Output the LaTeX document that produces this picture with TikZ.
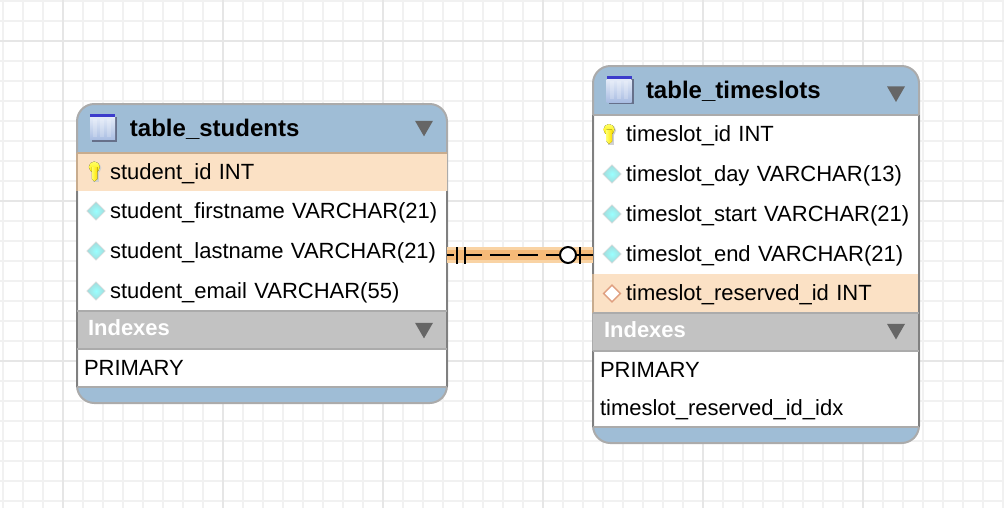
\documentclass[tikz,border=0pt]{standalone}
\usepackage{fontspec}
\setmainfont{Liberation Sans}
\usetikzlibrary{positioning,shapes.geometric,backgrounds}
\definecolor{gridminor}{HTML}{F1F1F1}
\definecolor{gridmajor}{HTML}{E6E6E6}
\definecolor{headblue}{HTML}{9FBDD6}
\definecolor{keyrow}{HTML}{FBE1C5}
\definecolor{indexgrey}{HTML}{C2C2C2}
\definecolor{rulegrey}{HTML}{ABABAB}
\definecolor{ruletan}{HTML}{C8AC8E}
\definecolor{sidegrey}{HTML}{808080}
\definecolor{arrowgrey}{HTML}{666666}
\definecolor{bandlight}{HTML}{F9D3A4}
\definecolor{banddark}{HTML}{F6BA78}
\definecolor{iconbar}{HTML}{3C3CCB}
\definecolor{iconshade}{HTML}{66708A}
\definecolor{icontop}{HTML}{E4EBF8}
\definecolor{iconbottom}{HTML}{A9BDE2}
\newcommand{\field}[1]{\hspace*{24.75pt}#1}
\newcommand{\indexrow}[1]{\hspace*{5.25pt}#1}
\newcommand{\headtitle}[1]{\hspace*{39.75pt}#1}
\newcommand{\indexhead}[1]{\hspace*{8.25pt}#1}

\begin{document}
\begin{tikzpicture}[
    x=0.75pt, y=-0.75pt,
    rowbox/.style={ inner xsep=0pt,
                    inner ysep=0pt,
                    outer sep=0pt,
                    align=left,
                    text height=12pt,
                    text depth=1.5pt,
                    font=\fontsize{16.5}{18}\selectfont},
    srow/.style={rowbox, text width=277.5pt},
    trow/.style={rowbox, text width=244.5pt},
    wide/.style={minimum height=30pt},
    thin/.style={minimum height=28.5pt},
    keyed/.style={fill=keyrow},
    title/.style={minimum height=36.75pt, text depth=0pt, font=\fontsize{18}{20}\selectfont\bfseries},
    indexbar/.style={fill=indexgrey, text=white, minimum height=28.5pt, text depth=4.5pt,
                     font=\fontsize{16.5}{18}\selectfont\bfseries},
    foot/.style={minimum height=12pt, text height=0pt, text depth=0pt},
    rule/.style={draw=rulegrey, line width=1.5pt},
    tanrule/.style={draw=ruletan, line width=1.5pt},
    side/.style={draw=sidegrey, line width=1.1pt},
    droparrow/.style={regular polygon, regular polygon sides=3, shape border rotate=180,
                      fill=arrowgrey, inner sep=0pt, minimum size=15.6pt},
    attr/.style={diamond, inner sep=0pt, minimum width=14pt, minimum height=14pt, draw=gray!30,
                 inner color=white!60!cyan, outer color=cyan!40!gray!50},
    fkey/.style={diamond, inner sep=0pt, minimum width=13pt, minimum height=13pt, draw=brown!50!pink,
                 line width=1pt, fill=white},
    tick/.style={inner sep=0pt, outer sep=0pt, minimum width=1.5pt, minimum height=12.75pt, fill=black},
    optional/.style={circle, draw=black, fill=white, line width=1.5pt, inner sep=0pt, minimum size=12pt},
    keyicon/.pic={
        \fill[black!18] (1.5,-4) circle (5.5);
        \fill[black!18] (-1,-4) rectangle (5,10);
        \fill[top color=yellow!60!white, bottom color=yellow!85!orange] (0,-5) circle (5.5);
        \fill[left color=yellow!60!white, right color=yellow!75!orange] (-2.5,-5) -- (3,-5) -- (3,7)
            -- (0,9.5) -- (-2.5,7) -- cycle;
    },
    tableicon/.pic={
        \fill[iconshade] (-11,-11) rectangle (14,14);
        \fill[top color=icontop, bottom color=iconbottom] (-13,-11) rectangle (12,12);
        \foreach \i in {-8,-1,6} \fill[white, opacity=0.2] (\i-2,-9) rectangle (\i+2,9);
        \fill[iconbar] (-13,-14) rectangle (12,-11);
    }]

    \useasboundingbox (0,0) rectangle (1004,508);

    % table_students
    \node[srow, title, anchor=north west] (shead) at (77,104) {\headtitle{table\_students}};
    \node[srow, thin, keyed, below=0pt of shead] (sid) {\field{student\_id INT}};
    \node[srow, wide, below=0pt of sid] (sfirst) {\field{student\_firstname VARCHAR(21)}};
    \node[srow, wide, below=0pt of sfirst] (slast) {\field{student\_lastname VARCHAR(21)}};
    \node[srow, wide, below=0pt of slast] (semail) {\field{student\_email VARCHAR(55)}};
    \node[srow, indexbar, below=0pt of semail] (sidx) {\indexhead{Indexes}};
    \node[srow, thin, below=0pt of sidx] (sprim) {\indexrow{PRIMARY}};
    \node[srow, foot, below=0pt of sprim] (sfoot) {};

    % table_timeslots
    \node[trow, title, anchor=north west] (thead) at (593,66) {\headtitle{table\_timeslots}};
    \node[trow, minimum height=29.25pt, below=0pt of thead] (tid) {\field{timeslot\_id INT}};
    \node[trow, wide, below=0pt of tid] (tday) {\field{timeslot\_day VARCHAR(13)}};
    \node[trow, wide, below=0pt of tday] (tstart) {\field{timeslot\_start VARCHAR(21)}};
    \node[trow, wide, below=0pt of tstart] (tend) {\field{timeslot\_end VARCHAR(21)}};
    \node[trow, minimum height=29.25pt, keyed, below=0pt of tend] (tres) {\field{timeslot\_reserved\_id INT}};
    \node[trow, indexbar, below=0pt of tres] (tidx) {\indexhead{Indexes}};
    \node[trow, thin, below=0pt of tidx] (tprim) {\indexrow{PRIMARY}};
    \node[trow, thin, below=0pt of tprim] (tuniq) {\indexrow{timeslot\_reserved\_id\_idx}};
    \node[trow, foot, below=0pt of tuniq] (tfoot) {};

    \begin{pgfonlayer}{background}
        % drawing grid
        \fill[white] (0,0) rectangle (1004,508);
        \foreach \x in {3,23,...,1003} \draw[gridminor, line width=1.2pt] (\x,0) -- (\x,508);
        \foreach \y in {1,21,...,501} \draw[gridminor, line width=1.2pt] (0,\y) -- (1004,\y);
        \foreach \x in {63,223,...,863} \draw[gridmajor, line width=1.2pt] (\x,0) -- (\x,508);
        \foreach \y in {41,201,361} \draw[gridmajor, line width=1.2pt] (0,\y) -- (1004,\y);
        % table frames
        \foreach \h/\f in {shead/sfoot,thead/tfoot} {
            \begin{scope}
                \clip[rounded corners=13pt] (\h.north west) rectangle (\f.south east);
                \fill[white] (\h.north west) rectangle (\f.south east);
                \fill[headblue] (\h.north west) rectangle (\h.south east);
                \fill[headblue] (\f.north west) rectangle (\f.south east);
            \end{scope}
            \draw[rule, rounded corners=13pt] (\h.north west) rectangle (\f.south east);
        }
    \end{pgfonlayer}

    % rules and sides
    \draw[side] (sfirst.north west) -- (sprim.south west);
    \draw[tanrule] (sid.north west) -- (sid.south west);
    \draw[side] (sid.south east) -- (sprim.south east);
    \draw[side] (tid.north west) -- (tres.north west);
    \draw[tanrule] (tres.north west) -- (tres.south west);
    \draw[side] (tidx.south west) -- (tuniq.south west);
    \draw[side] (tid.north east) -- (tuniq.south east);
    \draw[tanrule] (sid.north west) -- (sid.north east);
    \draw[rule] (sidx.north west) -- (sidx.north east);
    \draw[rule] (sprim.north west) -- (sprim.north east);
    \draw[rule] (sfoot.north west) -- (sfoot.north east);
    \draw[rule] (tid.north west) -- (tid.north east);
    \draw[rule] (tidx.north west) -- (tidx.north east);
    \draw[rule] (tprim.north west) -- (tprim.north east);
    \draw[rule] (tfoot.north west) -- (tfoot.north east);

    % icons
    \pic at ([xshift=19.5pt,yshift=0.5pt]shead.west) {tableicon};
    \pic at ([xshift=19.9pt,yshift=0.3pt]thead.west) {tableicon};
    \pic at ([xshift=13pt]sid.west) {keyicon};
    \pic at ([xshift=12pt]tid.west) {keyicon};
    \node[attr] (dfirst) at ([xshift=14.25pt]sfirst.west) {};
    \node[attr] (dlast) at ([xshift=14.25pt]slast.west) {};
    \node[attr] (demail) at ([xshift=14.25pt]semail.west) {};
    \node[attr] (dday) at ([xshift=14.25pt]tday.west) {};
    \node[attr] (dstart) at ([xshift=14.25pt]tstart.west) {};
    \node[attr] (dend) at ([xshift=14.25pt]tend.west) {};
    \node[fkey] (dres) at ([xshift=14.25pt]tres.west) {};
    \node[droparrow] (sdrop) at ([xshift=-17.25pt,yshift=1.9pt]shead.east) {};
    \node[droparrow] (sidrop) at ([xshift=-17.25pt,yshift=1.5pt]sidx.east) {};
    \node[droparrow] (tdrop) at ([xshift=-17.25pt,yshift=-0.8pt]thead.east) {};
    \node[droparrow] (tidrop) at ([xshift=-17.25pt,yshift=2.2pt]tidx.east) {};

    % relationship
    \coordinate (relstart) at ([yshift=-0.75pt]slast.east |- tend.west);
    \coordinate (relend) at ([yshift=-0.75pt]tend.west);
    \draw[bandlight, line width=12pt] (relstart) -- (relend);
    \draw[banddark, line width=7pt] (relstart) -- (relend);
    \node[tick] (tick1) at ([xshift=7.5pt]relstart) {};
    \node[tick] (tick2) at ([xshift=13.5pt]relstart) {};
    \node[optional] (circ) at ([xshift=-18.75pt]relend) {};
    \node[tick] (tick3) at ([xshift=-9.75pt]relend) {};
    \draw[line width=1.5pt] (relstart) -- ([xshift=5pt]relstart);
    \draw[line width=1.5pt, dash pattern=on 15pt off 6pt, dash phase=3pt] (tick2) -- (circ);
    \draw[line width=1.5pt] (circ) -- (relend);

\end{tikzpicture}
\end{document}
